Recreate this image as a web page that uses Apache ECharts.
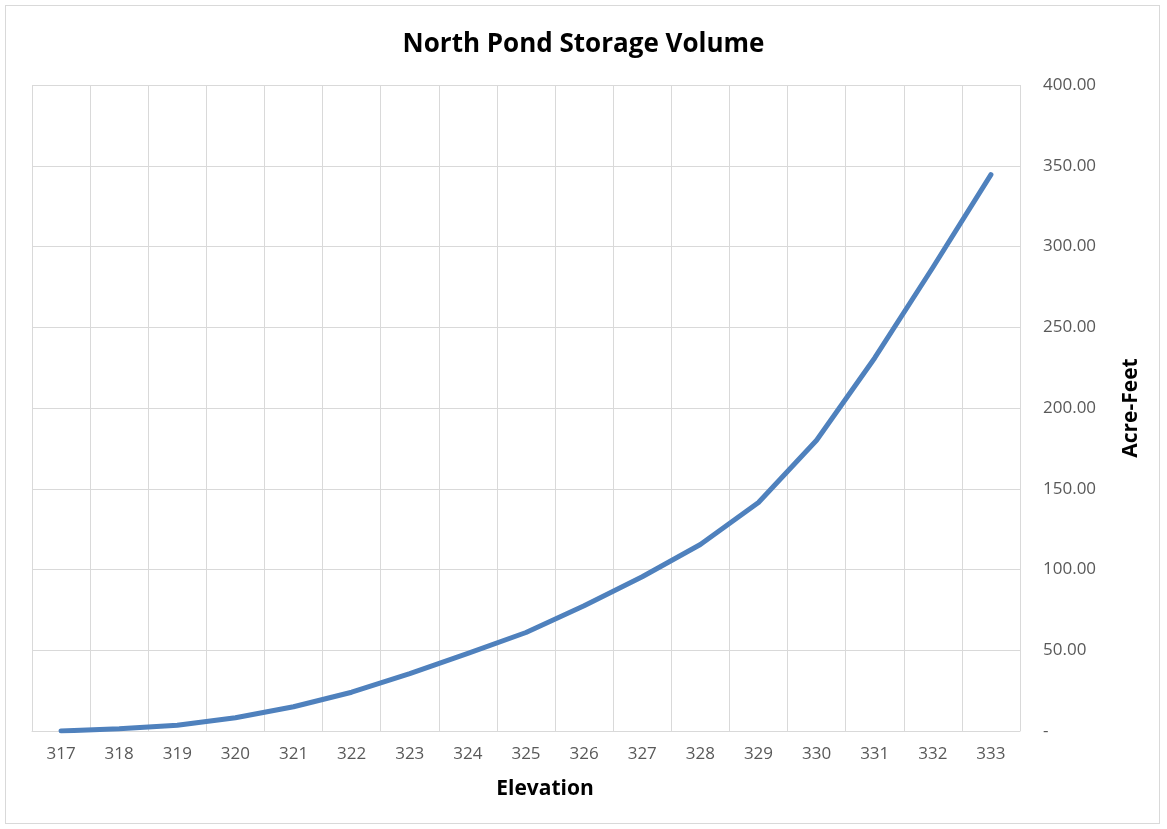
<!DOCTYPE html>
<html>
<head>
<meta charset="utf-8">
<script src="https://cdn.jsdelivr.net/npm/echarts@6/dist/echarts.min.js"></script>
<style>
  html, body { margin: 0; padding: 0; background: #ffffff; }
  #frame { position: absolute; left: 5px; top: 5px; width: 1155px; height: 819px; border: 1px solid #d9d9d9; box-sizing: border-box; }
  #chart { position: absolute; left: 0; top: 0; width: 1167px; height: 829px; }
</style>
</head>
<body>
<div id="frame"></div>
<div id="chart"></div>
<script>
const titleText = 'North Pond Storage Volume';
const xAxisName = 'Elevation';
const yAxisName = 'Acre-Feet';
const elevations = ['317','318','319','320','321','322','323','324','325','326','327','328','329','330','331','332','333'];
const volumes = [0, 1.4, 3.6, 8.2, 15, 24, 35.5, 48, 61, 77.5, 95.5, 115.5, 141.5, 180, 231, 287, 344.5];
const yMin = 0, yMax = 400, yInterval = 50;

const chart = echarts.init(document.getElementById('chart'), null, { renderer: 'canvas' });
const FONT = '"Open Sans", sans-serif';
chart.setOption({
  backgroundColor: 'transparent',
  animation: false,
  title: {
    text: titleText, left: 'center', top: 27,
    textStyle: { fontFamily: FONT, fontSize: 26, fontWeight: 'bold', color: '#000000' }
  },
  grid: { left: 32, right: 147, top: 85, bottom: 98, containLabel: false },
  xAxis: {
    type: 'category', data: elevations, boundaryGap: true,
    axisLine: { show: true, lineStyle: { color: '#d9d9d9', width: 1 } },
    axisTick: { show: false },
    axisLabel: { fontFamily: FONT, fontSize: 17, color: '#595959', margin: 15 },
    splitLine: { show: true, interval: 0, lineStyle: { color: '#d9d9d9', width: 1 } }
  },
  yAxis: {
    type: 'value', position: 'right', min: yMin, max: yMax, interval: yInterval,
    name: yAxisName, nameLocation: 'middle', nameRotate: 90, nameGap: 101,
    nameTextStyle: { fontFamily: FONT, fontSize: 21, fontWeight: 'bold', color: '#000000' },
    axisLine: { show: false }, axisTick: { show: false },
    axisLabel: {
      fontFamily: FONT, fontSize: 17, color: '#595959', margin: 23, align: 'left',
      formatter: v => v === 0 ? '-' : v.toFixed(2)
    },
    splitLine: { show: true, lineStyle: { color: '#d9d9d9', width: 1 } }
  },
  graphic: [{
    type: 'text', x: 545, y: 789,
    style: { text: xAxisName, fontFamily: FONT, fontSize: 21, fontWeight: 'bold', fill: '#000000', align: 'center', verticalAlign: 'middle' }
  }],
  series: [{
    type: 'line', data: volumes, smooth: false, showSymbol: false, symbol: 'none',
    lineStyle: { color: '#4f81bd', width: 5, cap: 'round', join: 'round' },
    itemStyle: { color: '#4f81bd' }
  }]
});
</script>
</body>
</html>
